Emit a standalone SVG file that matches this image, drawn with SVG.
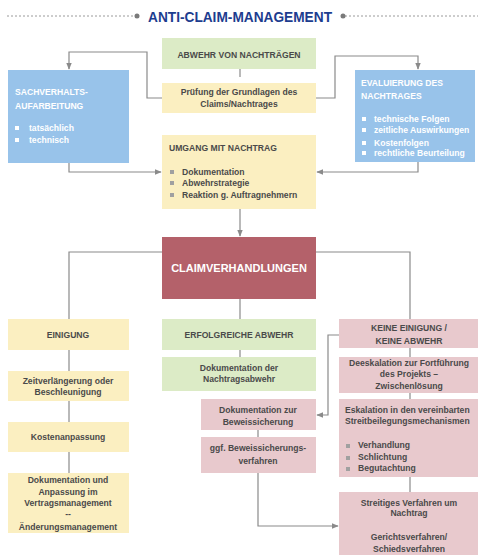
<svg xmlns="http://www.w3.org/2000/svg" width="480" height="555" viewBox="0 0 480 555">
<defs>
<style>
.t{font-family:"Liberation Sans",Arial,sans-serif;font-weight:bold;font-size:8.6px;fill:#4a4a4a}
.c{text-anchor:middle}
.w{fill:#ffffff}
.ln{fill:none;stroke:#8a8a8a;stroke-width:1.2}
.blue{fill:#98c3ea}
.yel{fill:#fbefc1}
.grn{fill:#dcebc6}
.red{fill:#b4616a}
.pnk{fill:#e8c9cd}
.bw{fill:#ffffff}
.bg{fill:#a0a0a0}
</style>
<marker id="ar" viewBox="0 0 10 10" refX="9" refY="5" markerWidth="6" markerHeight="6" orient="auto">
<path d="M0,1 L10,5 L0,9 z" fill="#8a8a8a"/>
</marker>
</defs>
<rect width="480" height="555" fill="#ffffff"/>

<g id="title">
<line x1="7" y1="16" x2="135" y2="16" stroke="#9a9a9a" stroke-width="1" stroke-dasharray="2,2"/>
<circle cx="137" cy="16" r="2.5" fill="#7a7a7a"/>
<line x1="345" y1="16" x2="478" y2="16" stroke="#9a9a9a" stroke-width="1" stroke-dasharray="2,2"/>
<circle cx="343" cy="16" r="2.5" fill="#7a7a7a"/>
<text x="240" y="21.5" text-anchor="middle" font-family="Liberation Sans,Arial,sans-serif" font-weight="bold" font-size="14" fill="#1d3d8f" textLength="184" lengthAdjust="spacingAndGlyphs">ANTI-CLAIM-MANAGEMENT</text>
</g>

<g id="connectors">
<line class="ln" x1="240" y1="69" x2="240" y2="77"/>
<polyline class="ln" points="162,98 147,98 147,52 69,52 69,69" marker-end="url(#ar)"/>
<polyline class="ln" points="316,98 335,98 335,56 418,56 418,69" marker-end="url(#ar)"/>
<polyline class="ln" points="69,163 69,172 161,172" marker-end="url(#ar)"/>
<polyline class="ln" points="418,162 418,172 317,172" marker-end="url(#ar)"/>
<line class="ln" x1="240" y1="209" x2="240" y2="236" marker-end="url(#ar)"/>
<polyline class="ln" points="162,252 69,252 69,319"/>
<polyline class="ln" points="316,252 410,252 410,319"/>
<line class="ln" x1="240" y1="299" x2="240" y2="319"/>
<line class="ln" x1="69" y1="350" x2="69" y2="371"/>
<line class="ln" x1="69" y1="401" x2="69" y2="422"/>
<line class="ln" x1="69" y1="452" x2="69" y2="473"/>
<line class="ln" x1="240" y1="350" x2="240" y2="357"/>
<line class="ln" x1="410" y1="348" x2="410" y2="357"/>
<line class="ln" x1="410" y1="393" x2="410" y2="399"/>
<line class="ln" x1="410" y1="477" x2="410" y2="492"/>
<polyline class="ln" points="339,335 328,335 328,415 317,415" marker-end="url(#ar)"/>
<line class="ln" x1="258" y1="430" x2="258" y2="437"/>
<polyline class="ln" points="258,473 258,526 338,526" marker-end="url(#ar)"/>
</g>

<g id="abwehr">
<rect class="grn" x="162" y="38" width="154" height="31"/>
<text class="t c" x="239" y="57.5">ABWEHR VON NACHTRÄGEN</text>
</g>

<g id="pruefung">
<rect class="yel" x="162" y="83" width="154" height="30"/>
<text class="t c" x="239" y="95">Prüfung der Grundlagen des</text>
<text class="t c" x="239" y="107">Claims/Nachtrages</text>
</g>

<g id="sachverhalt">
<rect class="blue" x="8" y="70" width="121" height="93"/>
<text class="t w" x="15" y="95">SACHVERHALTS-</text>
<text class="t w" x="15" y="109">AUFARBEITUNG</text>
<rect class="bw" x="15" y="126" width="4" height="4"/>
<text class="t w" x="29" y="131">tatsächlich</text>
<rect class="bw" x="15" y="138" width="4" height="4"/>
<text class="t w" x="29" y="143">technisch</text>
</g>

<g id="evaluierung">
<rect class="blue" x="355" y="70" width="120" height="92"/>
<text class="t w" x="361" y="86">EVALUIERUNG DES</text>
<text class="t w" x="361" y="99">NACHTRAGES</text>
<rect class="bw" x="362" y="117" width="4" height="4"/>
<text class="t w" x="374" y="122">technische Folgen</text>
<rect class="bw" x="362" y="128" width="4" height="4"/>
<text class="t w" x="374" y="133">zeitliche Auswirkungen</text>
<rect class="bw" x="362" y="141" width="4" height="4"/>
<text class="t w" x="374" y="146">Kostenfolgen</text>
<rect class="bw" x="362" y="151" width="4" height="4"/>
<text class="t w" x="374" y="156">rechtliche Beurteilung</text>
</g>

<g id="umgang">
<rect class="yel" x="162" y="135" width="154" height="74"/>
<text class="t" x="169" y="151">UMGANG MIT NACHTRAG</text>
<rect class="bg" x="170" y="170" width="4" height="4"/>
<text class="t" x="182" y="175">Dokumentation</text>
<rect class="bg" x="170" y="181" width="4" height="4"/>
<text class="t" x="182" y="186">Abwehrstrategie</text>
<rect class="bg" x="170" y="193" width="4" height="4"/>
<text class="t" x="182" y="198">Reaktion g. Auftragnehmern</text>
</g>

<g id="claimverhandlungen">
<rect class="red" x="162" y="237" width="154" height="62"/>
<text x="239" y="272" text-anchor="middle" font-family="Liberation Sans,Arial,sans-serif" font-weight="bold" font-size="11" fill="#ffffff">CLAIMVERHANDLUNGEN</text>
</g>

<g id="einigung">
<rect class="yel" x="8" y="319" width="121" height="31"/>
<text class="t c" x="68" y="338">EINIGUNG</text>
</g>

<g id="zeitverlaengerung">
<rect class="yel" x="8" y="371" width="121" height="30"/>
<text class="t c" x="68" y="384">Zeitverlängerung oder</text>
<text class="t c" x="68" y="395">Beschleunigung</text>
</g>

<g id="kostenanpassung">
<rect class="yel" x="8" y="422" width="121" height="30"/>
<text class="t c" x="68" y="440">Kostenanpassung</text>
</g>

<g id="dokumentation-anpassung">
<rect class="yel" x="8" y="473" width="121" height="60"/>
<text class="t c" x="68" y="483">Dokumentation und</text>
<text class="t c" x="68" y="495">Anpassung im</text>
<text class="t c" x="68" y="506">Vertragsmanagement</text>
<text class="t c" x="68" y="517">--</text>
<text class="t c" x="68" y="530">Änderungsmanagement</text>
</g>

<g id="erfolgreiche-abwehr">
<rect class="grn" x="162" y="319" width="154" height="31"/>
<text class="t c" x="239" y="338">ERFOLGREICHE ABWEHR</text>
</g>

<g id="dokumentation-nachtragsabwehr">
<rect class="grn" x="162" y="357" width="154" height="34"/>
<text class="t c" x="239" y="371">Dokumentation der</text>
<text class="t c" x="239" y="382">Nachtragsabwehr</text>
</g>

<g id="dokumentation-beweissicherung">
<rect class="pnk" x="201" y="399" width="115" height="31"/>
<text class="t c" x="258" y="413">Dokumentation zur</text>
<text class="t c" x="258" y="425">Beweissicherung</text>
</g>

<g id="beweissicherungsverfahren">
<rect class="pnk" x="201" y="437" width="115" height="36"/>
<text class="t c" x="258" y="451">ggf. Beweissicherungs-</text>
<text class="t c" x="258" y="464">verfahren</text>
</g>

<g id="keine-einigung">
<rect class="pnk" x="339" y="319" width="139" height="29"/>
<text class="t c" x="409" y="331">KEINE EINIGUNG /</text>
<text class="t c" x="409" y="344">KEINE ABWEHR</text>
</g>

<g id="deeskalation">
<rect class="pnk" x="339" y="357" width="139" height="36"/>
<text class="t c" x="409" y="366">Deeskalation zur Fortführung</text>
<text class="t c" x="409" y="377">des Projekts –</text>
<text class="t c" x="409" y="389">Zwischenlösung</text>
</g>

<g id="eskalation">
<rect class="pnk" x="339" y="399" width="139" height="78"/>
<text class="t" x="345" y="413">Eskalation in den vereinbarten</text>
<text class="t" x="345" y="424">Streitbeilegungsmechanismen</text>
<rect class="bg" x="346" y="444" width="4" height="4"/>
<text class="t" x="358" y="448">Verhandlung</text>
<rect class="bg" x="346" y="456" width="4" height="4"/>
<text class="t" x="358" y="460">Schlichtung</text>
<rect class="bg" x="346" y="467" width="4" height="4"/>
<text class="t" x="358" y="471">Begutachtung</text>
</g>

<g id="streitiges-verfahren">
<rect class="pnk" x="339" y="492" width="139" height="63"/>
<text class="t c" x="409" y="506">Streitiges Verfahren um</text>
<text class="t c" x="409" y="516">Nachtrag</text>
<text class="t c" x="409" y="540">Gerichtsverfahren/</text>
<text class="t c" x="409" y="552">Schiedsverfahren</text>
</g>
</svg>
